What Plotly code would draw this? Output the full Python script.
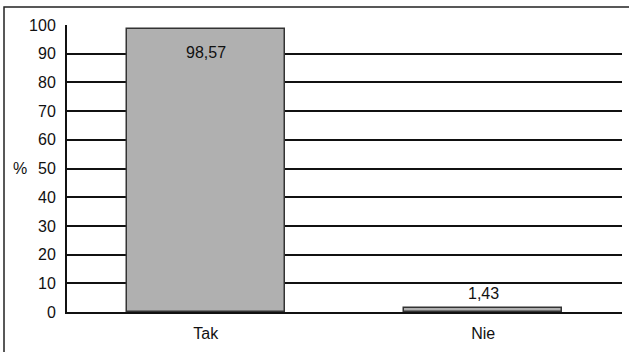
import plotly.graph_objects as go

categories = ["Tak", "Nie"]
values = [98.57, 1.43]
labels = ["98,57", "1,43"]
y_ticks = list(range(0, 101, 10))

fig = go.Figure()
fig.add_trace(go.Bar(
    x=categories, y=values, width=0.57,
    marker=dict(color="#b0b0b0", line=dict(color="#333333", width=1.5)),
    hoverinfo="skip",
))

font = dict(family="Liberation Sans, Arial, sans-serif", size=16, color="#111111")

# value labels
fig.add_annotation(x=categories[0], y=values[0], text=labels[0], showarrow=False,
                   yshift=-23, font=font)
fig.add_annotation(x=categories[1], y=values[1], text=labels[1], showarrow=False,
                   yshift=14, font=font)

# y-axis title "%"
fig.add_annotation(xref="paper", yref="y", x=-0.084, y=50, text="%", showarrow=False,
                   xanchor="center", font=font)

# outer frame
fig.add_shape(type="rect", xref="paper", yref="paper",
              x0=-0.1135, x1=1.2, y0=-0.3, y1=1.0627,
              line=dict(color="#222222", width=1.5), layer="below")

fig.update_layout(
    width=629, height=352,
    margin=dict(l=67, r=7, t=25, b=40),
    paper_bgcolor="white", plot_bgcolor="white",
    showlegend=False, font=font, bargap=0,
    xaxis=dict(showgrid=False, showline=True, linecolor="#111111", linewidth=1.5,
               ticks="", tickfont=font, fixedrange=True, ticklabelstandoff=6),
    yaxis=dict(range=[0, 100], tickvals=y_ticks, showgrid=True, gridcolor="#111111",
               gridwidth=1.5, showline=True, linecolor="#111111", linewidth=2,
               ticks="", ticklen=0, tickfont=font, zeroline=False, fixedrange=True,
               ticklabelstandoff=6),
)

fig.write_html("out.html")
